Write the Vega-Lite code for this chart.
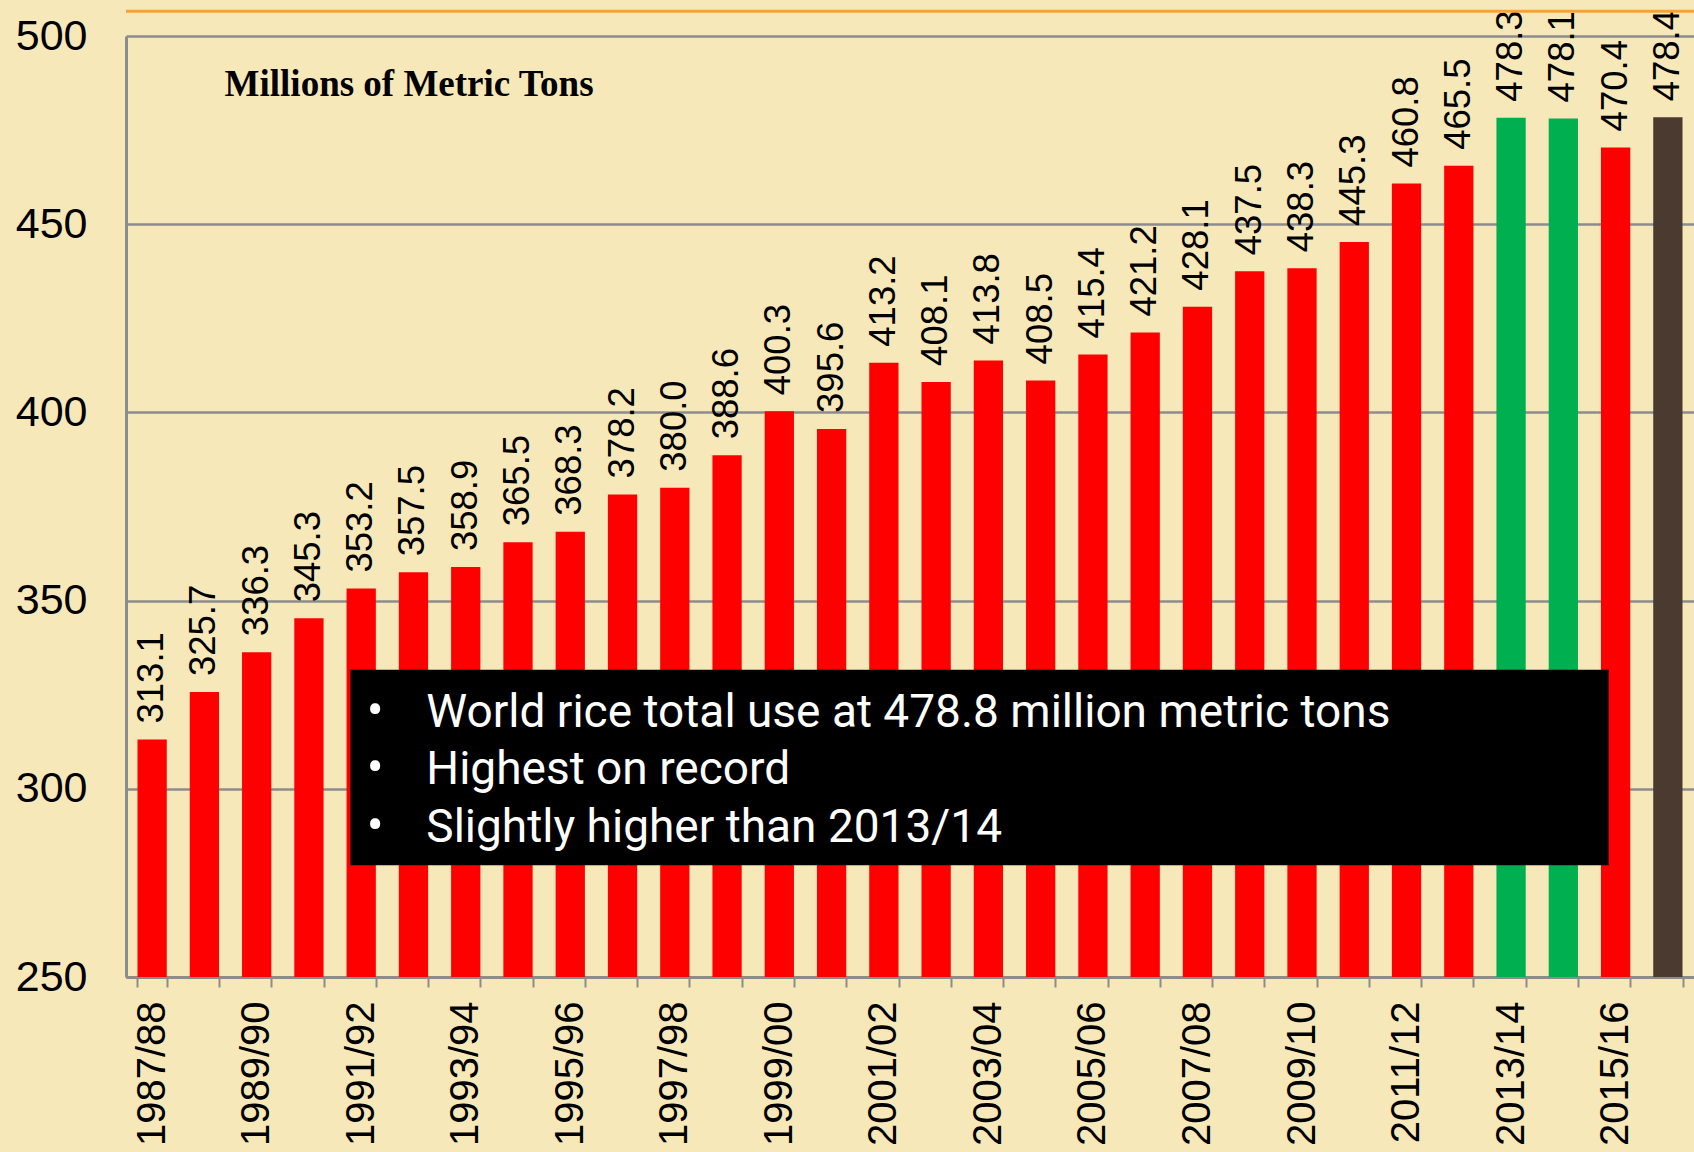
{
  "$schema": "https://vega.github.io/schema/vega-lite/v6.json",
  "width": 1568,
  "height": 941,
  "autosize": {"type": "none"},
  "padding": {"left": 126, "top": 36, "right": 0, "bottom": 175},
  "background": "#f7e8ba",
  "config": {"view": {"stroke": null}},
  "datasets": {
    "use": [
      {"season": "1987/88", "value": 313.1, "kind": "actual"},
      {"season": "1988/89", "value": 325.7, "kind": "actual"},
      {"season": "1989/90", "value": 336.3, "kind": "actual"},
      {"season": "1990/91", "value": 345.3, "kind": "actual"},
      {"season": "1991/92", "value": 353.2, "kind": "actual"},
      {"season": "1992/93", "value": 357.5, "kind": "actual"},
      {"season": "1993/94", "value": 358.9, "kind": "actual"},
      {"season": "1994/95", "value": 365.5, "kind": "actual"},
      {"season": "1995/96", "value": 368.3, "kind": "actual"},
      {"season": "1996/97", "value": 378.2, "kind": "actual"},
      {"season": "1997/98", "value": 380.0, "kind": "actual"},
      {"season": "1998/99", "value": 388.6, "kind": "actual"},
      {"season": "1999/00", "value": 400.3, "kind": "actual"},
      {"season": "2000/01", "value": 395.6, "kind": "actual"},
      {"season": "2001/02", "value": 413.2, "kind": "actual"},
      {"season": "2002/03", "value": 408.1, "kind": "actual"},
      {"season": "2003/04", "value": 413.8, "kind": "actual"},
      {"season": "2004/05", "value": 408.5, "kind": "actual"},
      {"season": "2005/06", "value": 415.4, "kind": "actual"},
      {"season": "2006/07", "value": 421.2, "kind": "actual"},
      {"season": "2007/08", "value": 428.1, "kind": "actual"},
      {"season": "2008/09", "value": 437.5, "kind": "actual"},
      {"season": "2009/10", "value": 438.3, "kind": "actual"},
      {"season": "2010/11", "value": 445.3, "kind": "actual"},
      {"season": "2011/12", "value": 460.8, "kind": "actual"},
      {"season": "2012/13", "value": 465.5, "kind": "actual"},
      {"season": "2013/14", "value": 478.3, "kind": "high"},
      {"season": "2014/15", "value": 478.1, "kind": "high"},
      {"season": "2015/16", "value": 470.4, "kind": "actual"},
      {"season": "2016/17", "value": 478.4, "kind": "projection"}
    ],
    "box": [
      {"from": "1991/92", "to": "2015/16", "top": 331.6, "bottom": 279.7}
    ],
    "notes": [
      {"cat": "1992/93", "bulletCat": "1991/92", "val": 316.4, "txt": "World rice total use at 478.8 million metric tons"},
      {"cat": "1992/93", "bulletCat": "1991/92", "val": 301.2, "txt": "Highest on record"},
      {"cat": "1992/93", "bulletCat": "1991/92", "val": 285.9, "txt": "Slightly higher than 2013/14"}
    ],
    "heading": [
      {"cat": "1988/89", "val": 487, "txt": "Millions of Metric Tons"}
    ]
  },
  "layer": [
    {
      "data": {"name": "use"},
      "mark": {"type": "bar", "clip": true},
      "encoding": {
        "x": {
          "field": "season", "type": "nominal",
          "scale": {"paddingInner": 0.44, "paddingOuter": 0.22},
          "axis": {
            "title": null,
            "labelAngle": 270,
            "labelFont": "Liberation Sans",
            "labelFontSize": 40,
            "labelColor": "#000000",
            "labelPadding": 14,
            "labelExpr": "parseInt(substring(datum.value, 0, 4)) % 2 == 1 ? datum.value : ''",
            "tickBand": "extent",
            "tickSize": 10,
            "tickWidth": 2,
            "tickColor": "#8c8c8c",
            "domainColor": "#8c8c8c",
            "domainWidth": 3,
            "labelOverlap": false,
            "grid": false
          }
        },
        "y": {
          "field": "value", "type": "quantitative",
          "scale": {"domain": [250, 500], "nice": false, "zero": false},
          "axis": {
            "title": null,
            "values": [250, 300, 350, 400, 450, 500],
            "ticks": false,
            "tickSize": 0,
            "labelFont": "Liberation Sans",
            "labelFontSize": 43,
            "labelColor": "#000000",
            "labelPadding": 39,
            "domainColor": "#8c8c8c",
            "domainWidth": 3,
            "grid": true,
            "gridColor": "#8c8c8c",
            "gridWidth": 2.5,
            "gridOpacity": 1
          }
        },
        "color": {
          "field": "kind", "type": "nominal",
          "scale": {"domain": ["actual", "high", "projection"], "range": ["#ff0000", "#00b050", "#4b3a2f"]},
          "legend": null
        }
      }
    },
    {
      "data": {"name": "use"},
      "mark": {"type": "text", "angle": 270, "align": "left", "baseline": "middle", "dx": 16, "font": "Liberation Sans", "fontSize": 36.5, "color": "#000000"},
      "encoding": {
        "x": {"field": "season", "type": "nominal"},
        "y": {"field": "value", "type": "quantitative", "scale": {"domain": [250, 500], "nice": false, "zero": false}},
        "text": {"field": "value", "type": "quantitative", "format": ".1f"}
      }
    },
    {
      "data": {"name": "box"},
      "mark": {"type": "rect", "color": "#000000"},
      "encoding": {
        "x": {"field": "from", "type": "nominal", "bandPosition": 0.13},
        "x2": {"field": "to", "bandPosition": 0.264},
        "y": {"field": "top", "type": "quantitative", "scale": {"domain": [250, 500], "nice": false, "zero": false}},
        "y2": {"field": "bottom"}
      }
    },
    {
      "data": {"name": "notes"},
      "mark": {"type": "text", "align": "center", "baseline": "alphabetic", "font": "Roboto", "fontSize": 50, "color": "#ffffff", "text": "•"},
      "encoding": {
        "x": {"field": "bulletCat", "type": "nominal", "bandPosition": 0.98},
        "y": {"field": "val", "type": "quantitative", "scale": {"domain": [250, 500], "nice": false, "zero": false}}
      }
    },
    {
      "data": {"name": "notes"},
      "mark": {"type": "text", "align": "left", "baseline": "alphabetic", "font": "Roboto", "fontSize": 46, "color": "#ffffff"},
      "encoding": {
        "x": {"field": "cat", "type": "nominal", "bandPosition": 0.94},
        "y": {"field": "val", "type": "quantitative", "scale": {"domain": [250, 500], "nice": false, "zero": false}},
        "text": {"field": "txt"}
      }
    },
    {
      "data": {"name": "heading"},
      "mark": {"type": "text", "align": "left", "baseline": "middle", "font": "Liberation Serif", "fontWeight": "bold", "fontSize": 37, "color": "#000000"},
      "encoding": {
        "x": {"field": "cat", "type": "nominal", "bandPosition": 1.19},
        "y": {"field": "val", "type": "quantitative", "scale": {"domain": [250, 500], "nice": false, "zero": false}},
        "text": {"field": "txt"}
      }
    },
    {
      "data": {"values": [{}]},
      "mark": {"type": "rule", "color": "#f2a43a", "strokeWidth": 3},
      "encoding": {
        "y": {"datum": 506.6, "type": "quantitative", "scale": {"domain": [250, 500], "nice": false, "zero": false}}
      }
    }
  ]
}
